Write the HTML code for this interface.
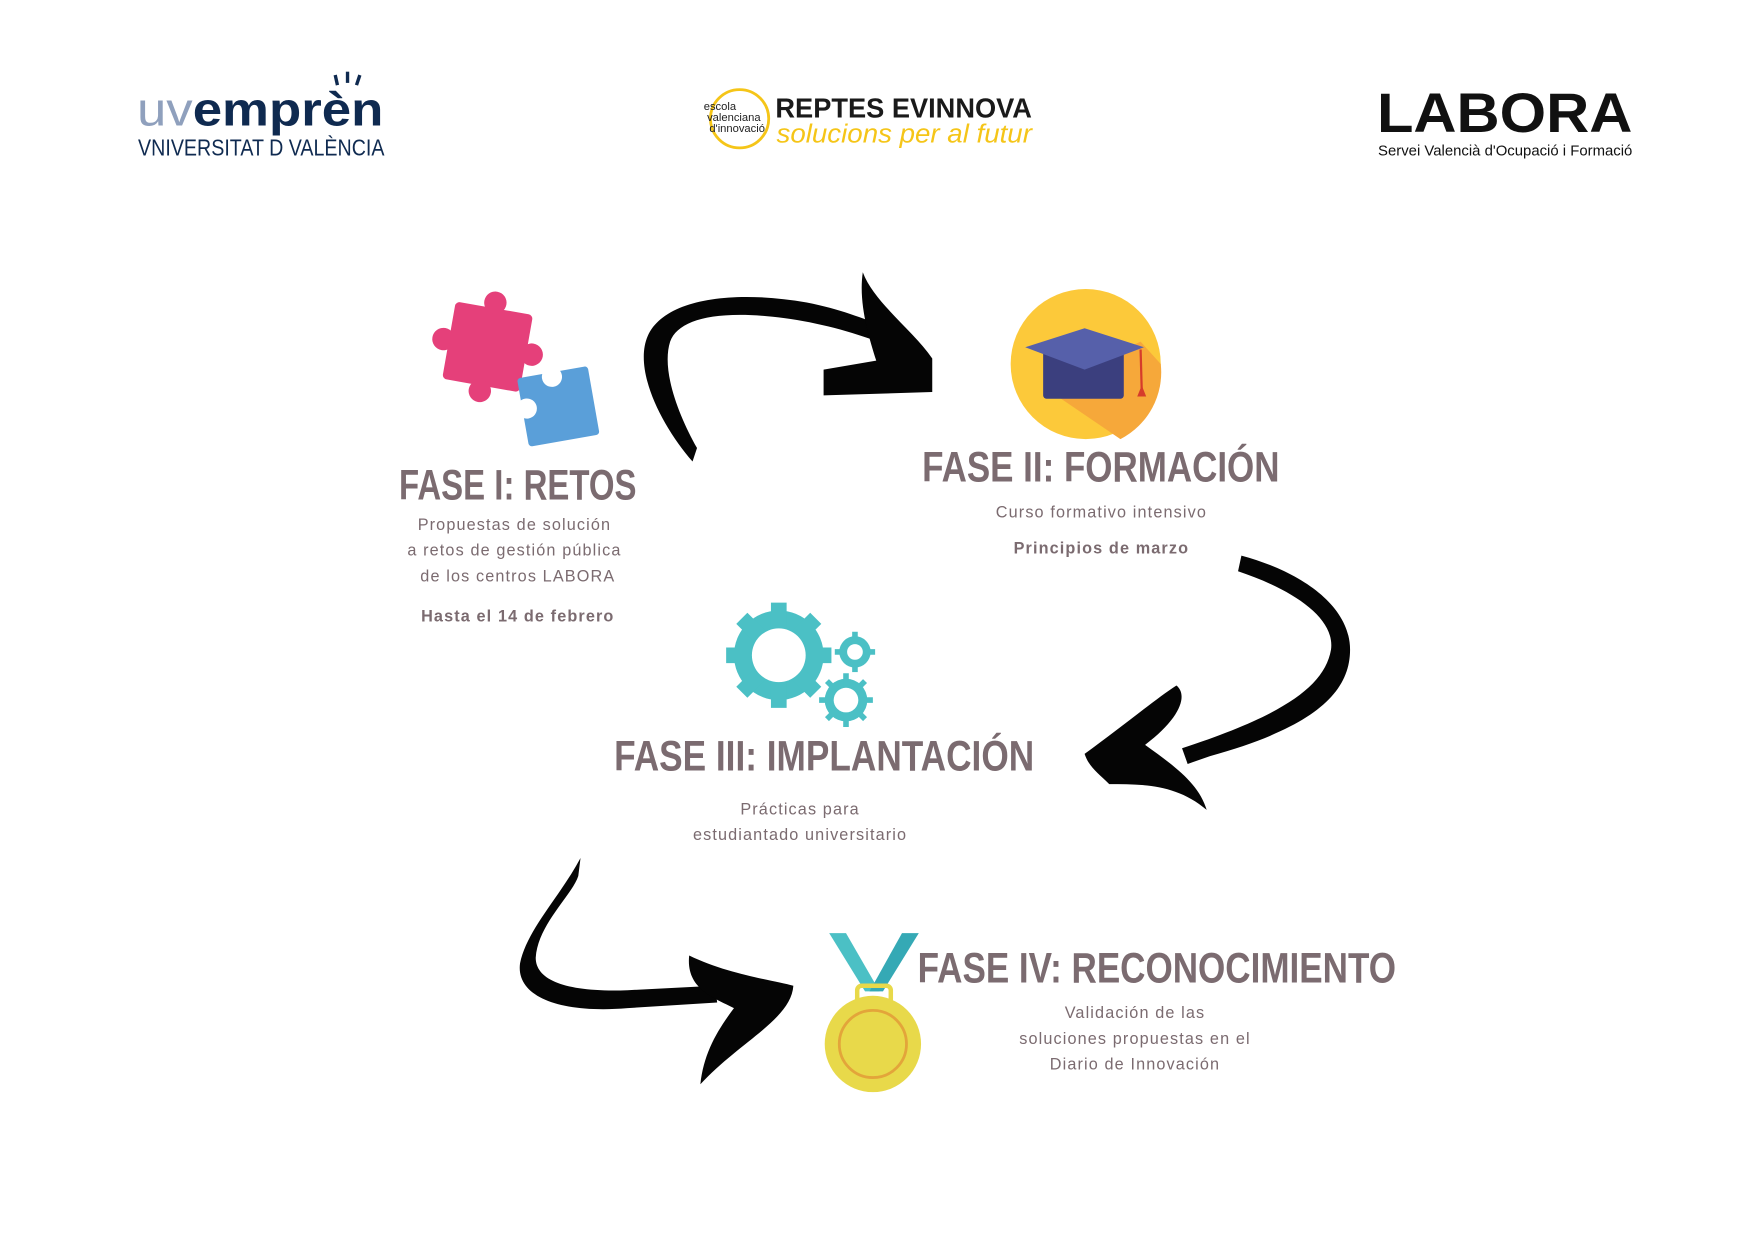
<!DOCTYPE html>
<html><head><meta charset="utf-8"><style>
html,body{margin:0;padding:0;background:#fff;width:1748px;height:1240px;overflow:hidden}
svg{display:block}
text{font-family:"Liberation Sans",sans-serif}
.h{font-weight:bold;fill:#7b6b70;font-size:38px}
.s{fill:#7b6b70;font-size:14.5px;letter-spacing:1px;text-anchor:middle}
.b{font-weight:bold}
</style></head><body>
<svg width="1748" height="1240" viewBox="0 0 1560 1107" xmlns="http://www.w3.org/2000/svg">
<rect width="1560" height="1107" fill="#fff"/>
<!-- uvempren logo -->
<text x="122" y="112" font-size="42" font-weight="bold" textLength="220" lengthAdjust="spacingAndGlyphs"><tspan fill="#8fa0bd" font-weight="normal">uv</tspan><tspan fill="#0f2a50">emprèn</tspan></text>
<g stroke="#0f2a50" stroke-width="3"><line x1="299" y1="67" x2="301" y2="76"/><line x1="310" y1="64" x2="310" y2="74"/><line x1="321" y1="67" x2="318" y2="76"/></g>
<text x="123" y="139" font-size="21" fill="#0f2a50" font-family="Liberation Serif" textLength="220" lengthAdjust="spacingAndGlyphs">VNIVERSITAT D VALÈNCIA</text>
<!-- escola -->
<circle cx="660" cy="106" r="26" fill="none" stroke="#f5c518" stroke-width="2.5"/>
<text x="628" y="98" font-size="10" fill="#222">escola</text>
<text x="631" y="108" font-size="10" fill="#222">valenciana</text>
<text x="633" y="118" font-size="10" fill="#222">d'innovació</text>
<text x="692" y="105" font-size="25" font-weight="bold" fill="#1a1a1a" textLength="229" lengthAdjust="spacingAndGlyphs">REPTES EVINNOVA</text>
<text x="693" y="127" font-size="23" font-style="italic" fill="#f5c518" textLength="228" lengthAdjust="spacingAndGlyphs">solucions per al futur</text>
<!-- LABORA -->
<text x="1229" y="118" font-size="50" font-weight="bold" fill="#111" textLength="228" lengthAdjust="spacingAndGlyphs">LABORA</text>
<text x="1230" y="139" font-size="13" fill="#111" textLength="227" lengthAdjust="spacingAndGlyphs">Servei Valencià d'Ocupació i Formació</text>

<!-- puzzle -->
<g transform="rotate(10 437 310)">
<rect x="400" y="275" width="70" height="70" rx="4" fill="#e5407a"/>
<circle cx="435" cy="270" r="10" fill="#e5407a"/><circle cx="475" cy="310" r="10" fill="#e5407a"/>
<circle cx="395" cy="310" r="10" fill="#e5407a"/><circle cx="435" cy="350" r="10" fill="#e5407a"/>
</g>
<g transform="rotate(-10 497 362)">
<rect x="466" y="332" width="64" height="62" rx="3" fill="#5a9fd9"/>
<circle cx="470" cy="360" r="9" fill="#fff"/><circle cx="497" cy="336" r="9" fill="#fff"/>
</g>
<!-- grad cap -->
<circle cx="969" cy="325" r="67" fill="#fcc93a"/>
<path d="M931 345 L1000 392 A67 67 0 0 0 1036 325 L1018 305 Z" fill="#f6a83a"/>
<rect x="931" y="310" width="72" height="46" rx="3" fill="#3b3f7e"/>
<polygon points="915,310 968,293 1021,310 968,330" fill="#5660aa"/>
<line x1="1018" y1="312" x2="1019" y2="348" stroke="#d63b2b" stroke-width="2"/>
<polygon points="1015,354 1023,354 1019,344" fill="#d63b2b"/>
<!-- gears -->
<g fill="#4bc0c5">
<circle cx="695" cy="585" r="40"/>
<g stroke="#4bc0c5" stroke-width="14">
<line x1="695" y1="538" x2="695" y2="632"/><line x1="648" y1="585" x2="742" y2="585"/>
<line x1="662" y1="552" x2="728" y2="618"/><line x1="728" y1="552" x2="662" y2="618"/>
</g>
<circle cx="763" cy="582" r="14"/><circle cx="755" cy="625" r="19"/>
<g stroke="#4bc0c5" stroke-width="5">
<line x1="763" y1="564" x2="763" y2="600"/><line x1="745" y1="582" x2="781" y2="582"/>
<line x1="755" y1="601" x2="755" y2="649"/><line x1="731" y1="625" x2="779" y2="625"/>
<line x1="738" y1="608" x2="772" y2="642"/><line x1="772" y1="608" x2="738" y2="642"/>
</g>
</g>
<circle cx="695" cy="585" r="24" fill="#fff"/>
<circle cx="763" cy="582" r="7" fill="#fff"/><circle cx="755" cy="625" r="11" fill="#fff"/>
<!-- medal -->
<polygon points="740,833 755,833 785,885 772,885" fill="#4bc0c5"/>
<polygon points="805,833 820,833 788,885 776,885" fill="#35a9b5"/>
<rect x="765" y="880" width="30" height="16" rx="4" fill="none" stroke="#e8d94a" stroke-width="4"/>
<circle cx="779" cy="932" r="43" fill="#e8d94a"/>
<circle cx="779" cy="932" r="30" fill="none" stroke="#e3a53a" stroke-width="2.5"/>

<!-- arrows -->
<g fill="#050505">
<path d="M618 412 C590 380 565 330 578 300 C592 268 650 258 720 270 C750 276 770 284 790 292 L786 306 C760 296 730 288 700 284 C640 276 605 285 598 305 C590 330 605 370 622 400 Z"/>
<path d="M770 243 C780 270 815 295 832 320 L832 350 L735 353 L735 330 L782 322 C775 300 766 270 770 243 Z"/>
<path d="M1108 496 C1160 510 1205 540 1205 580 C1205 620 1170 650 1080 675 L1060 682 L1055 668 C1140 640 1182 615 1188 580 C1192 550 1150 525 1105 510 Z"/>
<path d="M1050 612 C1060 620 1055 640 1022 665 C1050 685 1070 700 1077 723 C1050 700 1020 700 990 700 C980 690 972 685 968 673 C1000 650 1030 625 1050 612 Z"/>
<path d="M518 766 C500 800 470 830 464 860 C460 890 500 905 560 900 L640 895 L638 880 L560 884 C505 886 478 875 478 855 C480 825 510 800 516 782 Z"/>
<path d="M615 853 C650 870 690 875 708 880 C706 910 660 930 625 968 C628 940 640 920 655 900 C635 890 612 882 615 853 Z"/>
</g>

<!-- text -->
<text class="h" x="356" y="446" textLength="212" lengthAdjust="spacingAndGlyphs">FASE I: RETOS</text>
<text class="h" x="823" y="430" textLength="319" lengthAdjust="spacingAndGlyphs">FASE II: FORMACIÓN</text>
<text class="h" x="548" y="688" textLength="375" lengthAdjust="spacingAndGlyphs">FASE III: IMPLANTACIÓN</text>
<text class="h" x="819" y="877" textLength="427" lengthAdjust="spacingAndGlyphs">FASE IV: RECONOCIMIENTO</text>

<text class="s" x="459" y="473">Propuestas de solución</text>
<text class="s" x="459" y="496">a retos de gestión pública</text>
<text class="s" x="462" y="519">de los centros LABORA</text>
<text class="s b" x="462" y="555">Hasta el 14 de febrero</text>
<text class="s" x="983" y="462">Curso formativo intensivo</text>
<text class="s b" x="983" y="494">Principios de marzo</text>
<text class="s" x="714" y="727">Prácticas para</text>
<text class="s" x="714" y="750">estudiantado universitario</text>
<text class="s" x="1013" y="909">Validación de las</text>
<text class="s" x="1013" y="932">soluciones propuestas en el</text>
<text class="s" x="1013" y="955">Diario de Innovación</text>
</svg>
</body></html>
